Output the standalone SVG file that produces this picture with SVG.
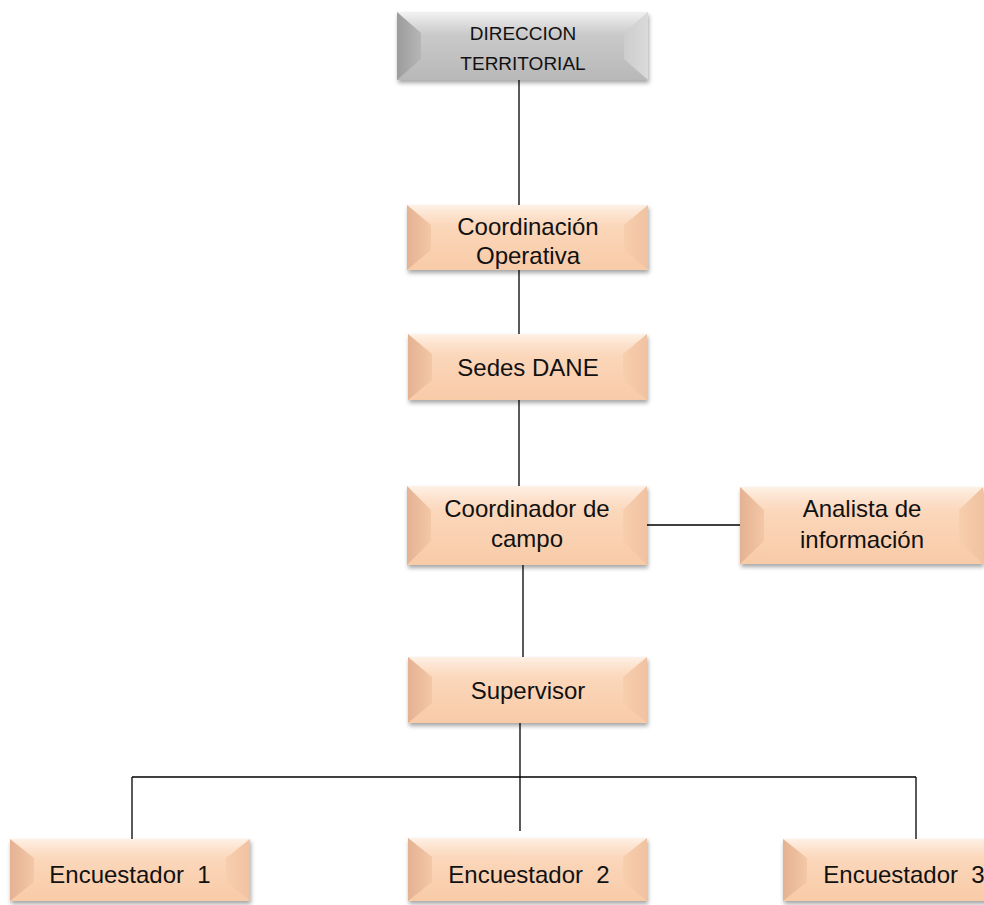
<svg xmlns="http://www.w3.org/2000/svg" width="984" height="905" viewBox="0 0 984 905">
<defs>
<filter id="sh" x="-5%" y="-10%" width="115%" height="135%">
<feDropShadow dx="1" dy="3" stdDeviation="2" flood-color="#000" flood-opacity="0.35"/>
</filter>
<linearGradient id="pMain" x1="0" y1="0" x2="0" y2="1">
<stop offset="0" stop-color="#FDE6D4"/><stop offset="0.35" stop-color="#FBD6B9"/><stop offset="1" stop-color="#F8CBA8"/>
</linearGradient>
<linearGradient id="pLeft" x1="0" y1="0" x2="1" y2="0">
<stop offset="0" stop-color="#E4B292"/><stop offset="1" stop-color="#F3C7A7"/>
</linearGradient>
<linearGradient id="pRight" x1="0" y1="0" x2="1" y2="0">
<stop offset="0" stop-color="#F7CEAE"/><stop offset="1" stop-color="#F0C2A1"/>
</linearGradient>
<linearGradient id="pTop" x1="0" y1="0" x2="0" y2="1">
<stop offset="0" stop-color="#FEF1E6"/><stop offset="1" stop-color="#FCDCC3" stop-opacity="0"/>
</linearGradient>
<linearGradient id="gMain" x1="0" y1="0" x2="0" y2="1">
<stop offset="0" stop-color="#E4E4E4"/><stop offset="0.35" stop-color="#C9C9C9"/><stop offset="1" stop-color="#B8B8B8"/>
</linearGradient>
<linearGradient id="gLeft" x1="0" y1="0" x2="1" y2="0">
<stop offset="0" stop-color="#9C9C9C"/><stop offset="1" stop-color="#B6B6B6"/>
</linearGradient>
<linearGradient id="gRight" x1="0" y1="0" x2="1" y2="0">
<stop offset="0" stop-color="#CDCDCD"/><stop offset="1" stop-color="#DADADA"/>
</linearGradient>
<linearGradient id="gTop" x1="0" y1="0" x2="0" y2="1">
<stop offset="0" stop-color="#F2F2F2"/><stop offset="1" stop-color="#D8D8D8" stop-opacity="0"/>
</linearGradient>
</defs>
<style>
.node text{font-family:"Liberation Sans",Arial,sans-serif;font-size:24px;fill:#111;text-anchor:middle}
.p .m{fill:url(#pMain)} .p .l{fill:url(#pLeft)} .p .r{fill:url(#pRight)} .p .t{fill:url(#pTop)}
.g .m{fill:url(#gMain)} .g .l{fill:url(#gLeft)} .g .r{fill:url(#gRight)} .g .t{fill:url(#gTop)}
.sh{filter:url(#sh)}
#connectors line{stroke:#000;stroke-width:1.3;fill:none}
</style>
<rect width="984" height="905" fill="#fff"/>

<g id="connectors">
<line x1="519" y1="80" x2="519" y2="205"/>
<line x1="519" y1="270" x2="519" y2="334"/>
<line x1="519" y1="400" x2="519" y2="486"/>
<line x1="647" y1="525" x2="740" y2="525"/>
<line x1="523" y1="565" x2="523" y2="657"/>
<line x1="520" y1="723" x2="520" y2="831"/>
<line x1="132" y1="777" x2="916" y2="777"/>
<line x1="132" y1="777" x2="132" y2="841"/>
<line x1="916" y1="777" x2="916" y2="841"/>
</g>

<g id="direccion" class="node g">
<g class="sh"><rect class="m" x="397" y="12" width="251" height="68"/></g>
<polygon class="t" points="397,12 648,12 624,33 421,33"/>
<polygon class="l" points="397,12 421,33 421,59 397,80"/>
<polygon class="r" points="648,12 624,33 624,59 648,80"/>
<text x="523" y="40" style="font-size:19px">DIRECCION</text>
<text x="523" y="70" style="font-size:19px">TERRITORIAL</text>
</g>

<g id="coord-operativa" class="node p">
<g class="sh"><rect class="m" x="407" y="205" width="241" height="65"/></g>
<polygon class="t" points="407,205 648,205 624,225 431,225"/>
<polygon class="l" points="407,205 431,225 431,250 407,270"/>
<polygon class="r" points="648,205 624,225 624,250 648,270"/>
<text x="528" y="235">Coordinación</text>
<text x="528" y="264">Operativa</text>
</g>

<g id="sedes" class="node p">
<g class="sh"><rect class="m" x="408" y="334" width="239" height="66"/></g>
<polygon class="t" points="408,334 647,334 623,354 432,354"/>
<polygon class="l" points="408,334 432,354 432,380 408,400"/>
<polygon class="r" points="647,334 623,354 623,380 647,400"/>
<text x="528" y="376">Sedes DANE</text>
</g>

<g id="coord-campo" class="node p">
<g class="sh"><rect class="m" x="407" y="486" width="240" height="79"/></g>
<polygon class="t" points="407,486 647,486 623,510 431,510"/>
<polygon class="l" points="407,486 431,510 431,541 407,565"/>
<polygon class="r" points="647,486 623,510 623,541 647,565"/>
<text x="527" y="517">Coordinador de</text>
<text x="527" y="547">campo</text>
</g>

<g id="analista" class="node p">
<g class="sh"><rect class="m" x="740" y="487" width="243" height="77"/></g>
<polygon class="t" points="740,487 983,487 959,510 764,510"/>
<polygon class="l" points="740,487 764,510 764,541 740,564"/>
<polygon class="r" points="983,487 959,510 959,541 983,564"/>
<text x="862" y="517">Analista de</text>
<text x="862" y="548">información</text>
</g>

<g id="supervisor" class="node p">
<g class="sh"><rect class="m" x="408" y="657" width="239" height="66"/></g>
<polygon class="t" points="408,657 647,657 623,677 432,677"/>
<polygon class="l" points="408,657 432,677 432,703 408,723"/>
<polygon class="r" points="647,657 623,677 623,703 647,723"/>
<text x="528" y="699">Supervisor</text>
</g>

<g id="encuestador1" class="node p">
<g class="sh"><rect class="m" x="10" y="839" width="240" height="62"/></g>
<polygon class="t" points="10,839 250,839 226,858 34,858"/>
<polygon class="l" points="10,839 34,858 34,882 10,901"/>
<polygon class="r" points="250,839 226,858 226,882 250,901"/>
<text x="130" y="883" xml:space="preserve">Encuestador  1</text>
</g>

<g id="encuestador2" class="node p">
<g class="sh"><rect class="m" x="408" y="838" width="239" height="63"/></g>
<polygon class="t" points="408,838 647,838 623,857 432,857"/>
<polygon class="l" points="408,838 432,857 432,882 408,901"/>
<polygon class="r" points="647,838 623,857 623,882 647,901"/>
<text x="529" y="883" xml:space="preserve">Encuestador  2</text>
</g>

<g id="encuestador3" class="node p">
<g class="sh"><rect class="m" x="783" y="839" width="240" height="62"/></g>
<polygon class="t" points="783,839 1023,839 999,858 807,858"/>
<polygon class="l" points="783,839 807,858 807,882 783,901"/>
<polygon class="r" points="1023,839 999,858 999,882 1023,901"/>
<text x="904" y="883" xml:space="preserve">Encuestador  3</text>
</g>
</svg>
